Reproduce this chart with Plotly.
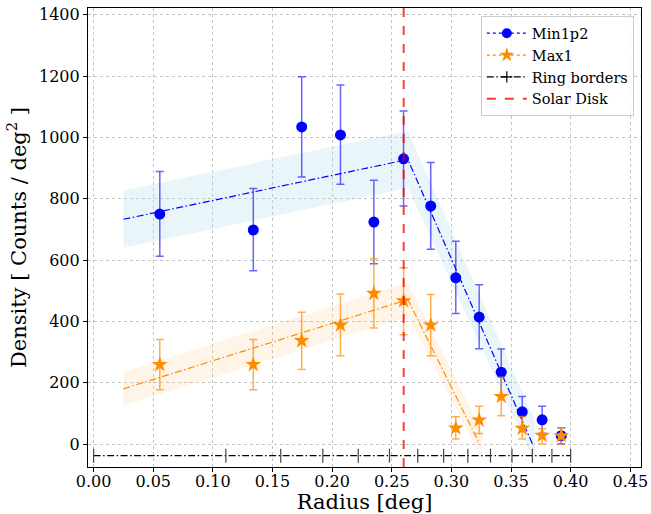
import plotly.graph_objects as go

# ---------------- data ----------------
RING_BORDERS = [0.0, 0.1109, 0.1569, 0.1922, 0.2219, 0.2481, 0.2718, 0.2935,
                0.3138, 0.3328, 0.3508, 0.3679, 0.3843, 0.4000]
RING_LEVEL = [-38] * len(RING_BORDERS)

R_MID = [0.0555, 0.1339, 0.1745, 0.2070, 0.2350, 0.2599, 0.2827, 0.3037,
         0.3233, 0.3418, 0.3594, 0.3761, 0.3921]

MIN_Y = [750, 698, 1034, 1008, 724, 930, 776, 542, 414, 234, 105, 79, 27]
MIN_ERR_HI = [139, 135, 164, 163, 136, 156, 142, 119, 105, 76, 50, 44, 26]
MIN_ERR_LO = [138, 133, 163, 161, 136, 154, 141, 116, 103, 76, 50, 44, 27]

MAX_Y = [259, 259, 337, 388, 491, 467, 388, 52, 78, 155, 51, 28, 27]
MAX_ERR_HI = [82, 82, 93, 101, 113, 108, 100, 37, 45, 63, 39, 22, 26]
MAX_ERR_LO = [82, 82, 94, 100, 113, 111, 100, 36, 44, 63, 35, 28, 27]

# fitted broken-line models
MIN_FIT_X = [0.025, 0.2635, 0.368]
MIN_FIT_Y = [733, 928, 0]
MIN_BAND_X = [0.025, 0.2635, 0.370]
MIN_BAND_UP = [827, 1021, 75]
MIN_BAND_LO = [640, 835, -62]

MAX_FIT_X = [0.025, 0.2635, 0.3237]
MAX_FIT_Y = [180, 471, 0]
MAX_BAND_X = [0.025, 0.2635, 0.326]
MAX_BAND_UP = [236, 527, 38]
MAX_BAND_LO = [125, 416, -50]

SOLAR_DISK = 0.26

X_RANGE = [-0.0047, 0.459]
Y_RANGE = [-75, 1422]

BLUE = "#0000ff"
ORANGE = "#ff8c00"
FONT = "DejaVu Serif"
DASHDOT = "7px,2.5px,1.5px,2.5px"

fig = go.Figure()

# bands
fig.add_trace(go.Scatter(x=MIN_BAND_X + MIN_BAND_X[::-1], y=MIN_BAND_UP + MIN_BAND_LO[::-1],
                         fill="toself", mode="lines", line=dict(width=0),
                         fillcolor="rgba(173,216,230,0.25)", showlegend=False, hoverinfo="skip"))
fig.add_trace(go.Scatter(x=MAX_BAND_X + MAX_BAND_X[::-1], y=MAX_BAND_UP + MAX_BAND_LO[::-1],
                         fill="toself", mode="lines", line=dict(width=0),
                         fillcolor="rgba(255,200,140,0.2)", showlegend=False, hoverinfo="skip"))

# fit lines
fig.add_trace(go.Scatter(x=MIN_FIT_X, y=MIN_FIT_Y, mode="lines",
                         line=dict(color=BLUE, width=1.2, dash=DASHDOT), showlegend=False))
fig.add_trace(go.Scatter(x=MAX_FIT_X, y=MAX_FIT_Y, mode="lines",
                         line=dict(color=ORANGE, width=1.2, dash=DASHDOT), showlegend=False))

# ring borders
fig.add_trace(go.Scatter(x=RING_BORDERS, y=RING_LEVEL, mode="lines+markers",
                         line=dict(color="black", width=1.2, dash=DASHDOT),
                         marker=dict(symbol="line-ns", size=10, line=dict(color="#444444", width=1.2)),
                         showlegend=False))

# data points
fig.add_trace(go.Scatter(x=R_MID, y=MIN_Y, mode="markers", showlegend=False,
                         marker=dict(color=BLUE, size=11, symbol="circle"),
                         error_y=dict(type="data", array=MIN_ERR_HI, arrayminus=MIN_ERR_LO,
                                      color="rgba(0,0,255,0.6)", thickness=1.5, width=4)))
fig.add_trace(go.Scatter(x=R_MID, y=MAX_Y, mode="markers", showlegend=False,
                         marker=dict(color=ORANGE, size=12, symbol="star"),
                         error_y=dict(type="data", array=MAX_ERR_HI, arrayminus=MAX_ERR_LO,
                                      color="rgba(255,140,0,0.7)", thickness=1.5, width=4)))

# legend entries
fig.add_trace(go.Scatter(x=[None], y=[None], mode="lines+markers", name="Min1p2",
                         line=dict(color=BLUE, width=1.2, dash="dot"),
                         marker=dict(color=BLUE, size=10, symbol="circle")))
fig.add_trace(go.Scatter(x=[None], y=[None], mode="lines+markers", name="Max1",
                         line=dict(color=ORANGE, width=1.2, dash="dot"),
                         marker=dict(color=ORANGE, size=11, symbol="star")))
fig.add_trace(go.Scatter(x=[None], y=[None], mode="lines+markers", name="Ring borders",
                         line=dict(color="black", width=1.2, dash=DASHDOT),
                         marker=dict(symbol="cross-thin", size=8, line=dict(color="black", width=1.2))))
fig.add_trace(go.Scatter(x=[None], y=[None], mode="lines", name="Solar Disk",
                         line=dict(color="rgba(255,0,0,0.8)", width=2, dash="dash")))

fig.add_vline(x=SOLAR_DISK, line=dict(color="rgba(240,0,0,0.75)", width=2, dash="dash"), layer="above")

axis_common = dict(showline=True, linecolor="black", linewidth=1.2, mirror=True,
                   ticks="outside", ticklen=4, tickcolor="black", showgrid=True,
                   gridcolor="#c4c4c4", gridwidth=0.8, griddash="dot", zeroline=False,
                   tickfont=dict(family=FONT, size=16, color="black"))

fig.update_xaxes(range=X_RANGE, tick0=0, dtick=0.05, tickformat=".2f", ticklabelstandoff=-4,
                 title=dict(text="Radius [deg]", font=dict(family=FONT, size=21, color="black"), standoff=9),
                 **axis_common)
fig.update_yaxes(range=Y_RANGE, tick0=0, dtick=200,
                 title=dict(text="Density [ Counts / deg<sup>2</sup> ]",
                            font=dict(family=FONT, size=21, color="black"), standoff=6),
                 **axis_common)

fig.update_layout(width=651, height=514, plot_bgcolor="white", paper_bgcolor="white",
                  margin=dict(l=88, r=10, t=8, b=47, autoexpand=False),
                  font=dict(family=FONT, color="black"),
                  legend=dict(x=0.987, y=0.982, xanchor="right", yanchor="top",
                              bgcolor="rgba(255,255,255,0.8)", bordercolor="#cccccc", borderwidth=1,
                              font=dict(family=FONT, size=14.5, color="black"),
                              tracegroupgap=0, itemwidth=40))

fig.write_html("out.html", config={"displayModeBar": False},
               post_script="document.body.style.margin='0';document.body.style.padding='0';")
